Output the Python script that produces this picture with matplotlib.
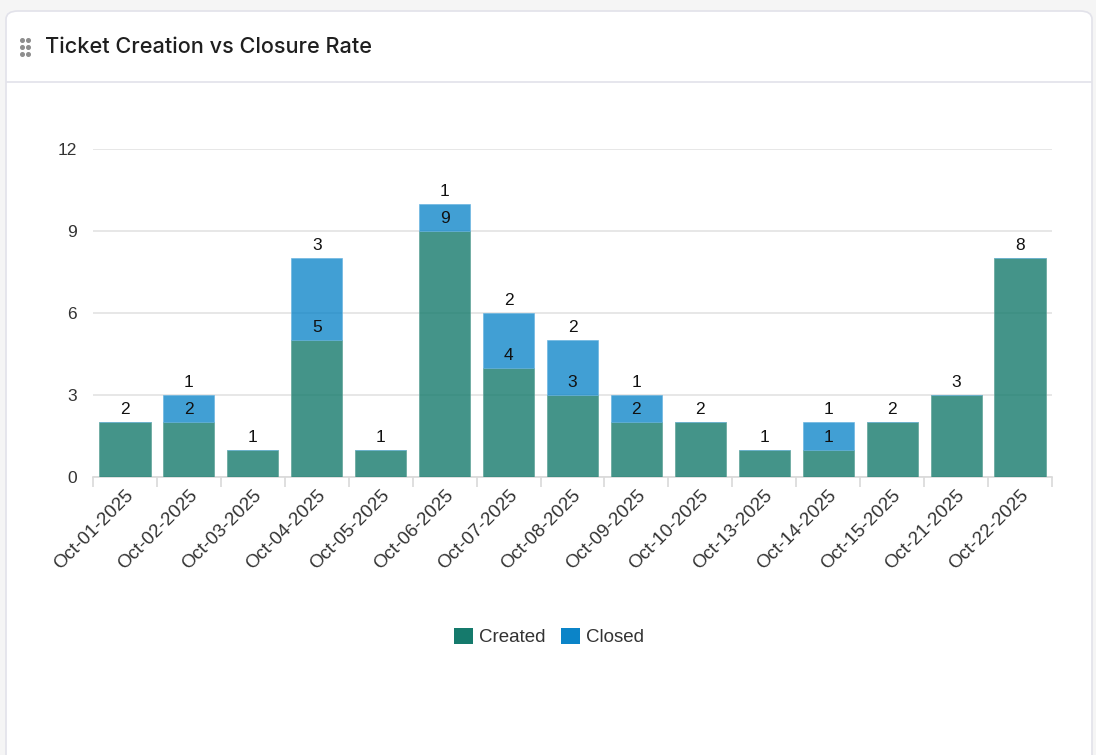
import matplotlib.pyplot as plt
from matplotlib.patches import FancyBboxPatch
from matplotlib.lines import Line2D

dates = ['Oct-01-2025', 'Oct-02-2025', 'Oct-03-2025', 'Oct-04-2025', 'Oct-05-2025',
         'Oct-06-2025', 'Oct-07-2025', 'Oct-08-2025', 'Oct-09-2025', 'Oct-10-2025',
         'Oct-13-2025', 'Oct-14-2025', 'Oct-15-2025', 'Oct-21-2025', 'Oct-22-2025']
created = [2, 2, 1, 5, 1, 9, 4, 3, 2, 2, 1, 1, 2, 3, 8]
closed = [0, 1, 0, 3, 0, 1, 2, 2, 1, 0, 0, 1, 0, 0, 0]
y_ticks = [0, 3, 6, 9, 12]

c_created = '#157a6c'
c_closed = '#0b84c8'

plt.rcParams['font.family'] = ['Liberation Sans', 'DejaVu Sans']

W, H = 1096, 755
fig = plt.figure(figsize=(W / 100, H / 100), dpi=100, facecolor='#f5f5f5')

# card background
card = FancyBboxPatch((6 / W, -0.05), 1086 / W, (H - 11) / H + 0.05,
                      boxstyle='round,pad=0,rounding_size=0.011',
                      transform=fig.transFigure, facecolor='white',
                      edgecolor='#e2e2ea', linewidth=1.2, zorder=-5)
fig.patches.append(card)
fig.add_artist(Line2D([7 / W, 1091 / W], [1 - 82 / H, 1 - 82 / H],
                      transform=fig.transFigure, color='#e2e2ea', lw=1.2, zorder=-4))

# drag handle dots
for dx in (21.5, 28.3):
    for dy in (40, 46.8, 53.8):
        fig.add_artist(Line2D([dx / W], [1 - dy / H], marker='o', markersize=2.6,
                              color='#8e8e8e', transform=fig.transFigure))

fig.text(45 / W, 1 - 47 / H, 'Ticket Creation vs Closure Rate', fontsize=15.6,
         family=['Inter', 'DejaVu Sans'], weight='medium', color='#1f1f1f',
         va='center', ha='left')

ax = fig.add_axes([93 / W, 1 - 477 / H, (1052 - 93) / W, (477 - 149) / H], zorder=2)
ax.patch.set_alpha(0)
x = list(range(len(dates)))
ax.bar(x, created, width=0.8, color=c_created, alpha=0.8, edgecolor='#5fa398',
       linewidth=0.6, zorder=3)
ax.bar(x, closed, width=0.8, bottom=created, color=c_closed, alpha=0.78,
       edgecolor='#6ab4e0', linewidth=0.6, zorder=3)

for i in x:
    ax.annotate(str(created[i]), (i, created[i]), xytext=(0, 3.5), textcoords='offset points',
                ha='center', va='bottom', fontsize=12.5, color='#111111', zorder=5)
    if closed[i] > 0:
        ax.annotate(str(closed[i]), (i, created[i] + closed[i]), xytext=(0, 3.5),
                    textcoords='offset points', ha='center', va='bottom',
                    fontsize=12.5, color='#111111', zorder=5)

ax.set_xlim(-0.5, len(dates) - 0.5)
ax.set_ylim(0, 12)
ax.set_yticks(y_ticks)
ax.set_yticklabels([str(v) for v in y_ticks])
ax.yaxis.grid(True, color='#e3e3e3', linewidth=1.2, zorder=0)
ax.set_axisbelow(True)
ax.tick_params(axis='y', length=0, pad=11.5, labelsize=12.5, labelcolor='#333333')
for s in ('top', 'right', 'left'):
    ax.spines[s].set_visible(False)
ax.spines['bottom'].set_color('#d9d9d9')
ax.spines['bottom'].set_linewidth(1.2)

# tick marks at category boundaries, labels at centers
ax.set_xticks([i - 0.5 for i in range(len(dates) + 1)])
ax.set_xticklabels([])
ax.set_xticks(x, minor=True)
ax.set_xticklabels(dates, minor=True, rotation=45, ha='right', rotation_mode='anchor',
                   fontsize=13.5, color='#333333')
ax.tick_params(axis='x', which='major', length=7, color='#d9d9d9', width=1.2)
ax.tick_params(axis='x', which='minor', length=0, pad=7)

# legend
handles = [FancyBboxPatch((0, 0), 1, 1, boxstyle='round,pad=0,rounding_size=0.2',
                          facecolor=c_created, edgecolor='none'),
           FancyBboxPatch((0, 0), 1, 1, boxstyle='round,pad=0,rounding_size=0.2',
                          facecolor=c_closed, edgecolor='none')]
fig.legend(handles, ['Created', 'Closed'], loc='center', bbox_to_anchor=(549 / W, 1 - 637 / H),
           ncol=2, frameon=False, fontsize=13.5, handlelength=1.0, handleheight=1.0,
           handletextpad=0.35, columnspacing=0.8, labelcolor='#333333')

fig.savefig('out.png', dpi=100, facecolor=fig.get_facecolor())
